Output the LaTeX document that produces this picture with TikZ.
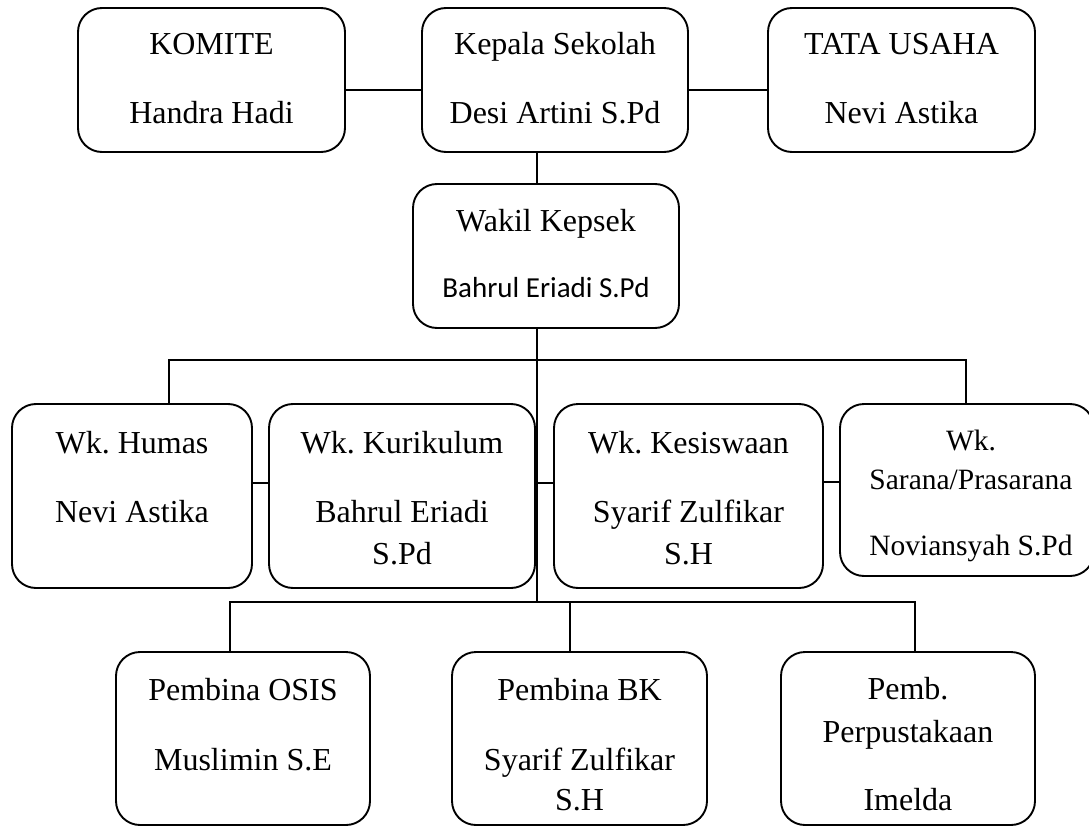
\documentclass[tikz,border=0pt]{standalone}
\usepackage{fontspec}
\setmainfont{Liberation Serif}
\newfontfamily\calibri{Carlito}
\frenchspacing
\begin{document}
\begin{tikzpicture}[x=1pt,y=-1pt,line width=1.9pt,
  kotak/.style={draw, rounded corners=24pt},
  txt/.style={anchor=base, inner sep=0pt, font=\fontsize{32}{38}\selectfont}]
\useasboundingbox (0,0) rectangle (1089,829);
% boxes
\node[kotak, minimum width=267pt, minimum height=144pt] (KM) at (211.5,80) {};
\node[kotak, minimum width=266pt, minimum height=144pt] (KS) at (555,80) {};
\node[kotak, minimum width=267pt, minimum height=144pt] (TU) at (901.5,80) {};
\node[kotak, minimum width=266pt, minimum height=144pt] (WK) at (546,256) {};
\node[kotak, minimum width=240pt, minimum height=184pt] (HM) at (132,496) {};
\node[kotak, minimum width=266pt, minimum height=184pt] (KR) at (402,496) {};
\node[kotak, minimum width=269pt, minimum height=184pt] (KSW) at (688.5,496) {};
\node[kotak, minimum width=254pt, minimum height=172pt] (SP) at (967,490) {};
\node[kotak, minimum width=254pt, minimum height=173pt] (OS) at (243,738.5) {};
\node[kotak, minimum width=255pt, minimum height=173pt] (BK) at (579.5,738.5) {};
\node[kotak, minimum width=254pt, minimum height=173pt] (PP) at (908,738.5) {};
% texts
\node[txt] (KM1) at (211.5,55) {KOMITE};
\node[txt] (KM2) at (211.5,124) {Handra Hadi};
\node[txt] (KS1) at (555,55) {Kepala Sekolah};
\node[txt] (KS2) at (555,124) {Desi Artini S.Pd};
\node[txt] (TU1) at (901.5,55) {TATA USAHA};
\node[txt] (TU2) at (901.5,124) {Nevi Astika};
\node[txt] (WK1) at (546,231) {Wakil Kepsek};
\node[txt, font=\calibri\fontsize{29}{35}\selectfont] (WK2) at (546,297) {Bahrul Eriadi S.Pd};
\node[txt] (HM1) at (132,453) {Wk. Humas};
\node[txt] (HM2) at (132,522) {Nevi Astika};
\node[txt] (KR1) at (402,453) {Wk. Kurikulum};
\node[txt] (KR2) at (402,522) {Bahrul Eriadi};
\node[txt] (KR3) at (402,564) {S.Pd};
\node[txt] (KSW1) at (688.5,453) {Wk. Kesiswaan};
\node[txt] (KSW2) at (688.5,522) {Syarif Zulfikar};
\node[txt] (KSW3) at (688.5,564) {S.H};
\node[txt, font=\fontsize{29.5}{35}\selectfont] (SP1) at (971,450) {Wk.};
\node[txt, font=\fontsize{29.5}{35}\selectfont] (SP2) at (971,489) {Sarana/Prasarana};
\node[txt, font=\fontsize{29.5}{35}\selectfont] (SP3) at (971,555) {Noviansyah S.Pd};
\node[txt] (OS1) at (243,700) {Pembina OSIS};
\node[txt] (OS2) at (243,770) {Muslimin S.E};
\node[txt] (BK1) at (579.5,700) {Pembina BK};
\node[txt] (BK2) at (579.5,770) {Syarif Zulfikar};
\node[txt] (BK3) at (579.5,810) {S.H};
\node[txt] (PP1) at (908,699) {Pemb.};
\node[txt] (PP2) at (908,742) {Perpustakaan};
\node[txt] (PP3) at (908,810) {Imelda};
% lines
\coordinate (T1) at (537,360);
\coordinate (T2) at (537,602);
\draw (KM.east |- 0,90) -- (KS.west |- 0,90);
\draw (KS.east |- 0,90) -- (TU.west |- 0,90);
\draw (KS.south -| T1) -- (WK.north -| T1);
\draw (WK.south -| T1) -- (T2);
\draw (HM.north -| 169,0) |- (T1) -| (SP.north -| 966,0);
\draw (OS.north -| 230,0) |- (T2) -| (PP.north -| 915,0);
\draw (BK.north -| 570,0) -- (570,602);
\draw (HM.east |- 0,483) -- (KR.west |- 0,483);
\draw (KR.east |- 0,483) -- (KSW.west |- 0,483);
\draw (KSW.east |- 0,482) -- (SP.west |- 0,482);
\end{tikzpicture}
\end{document}
